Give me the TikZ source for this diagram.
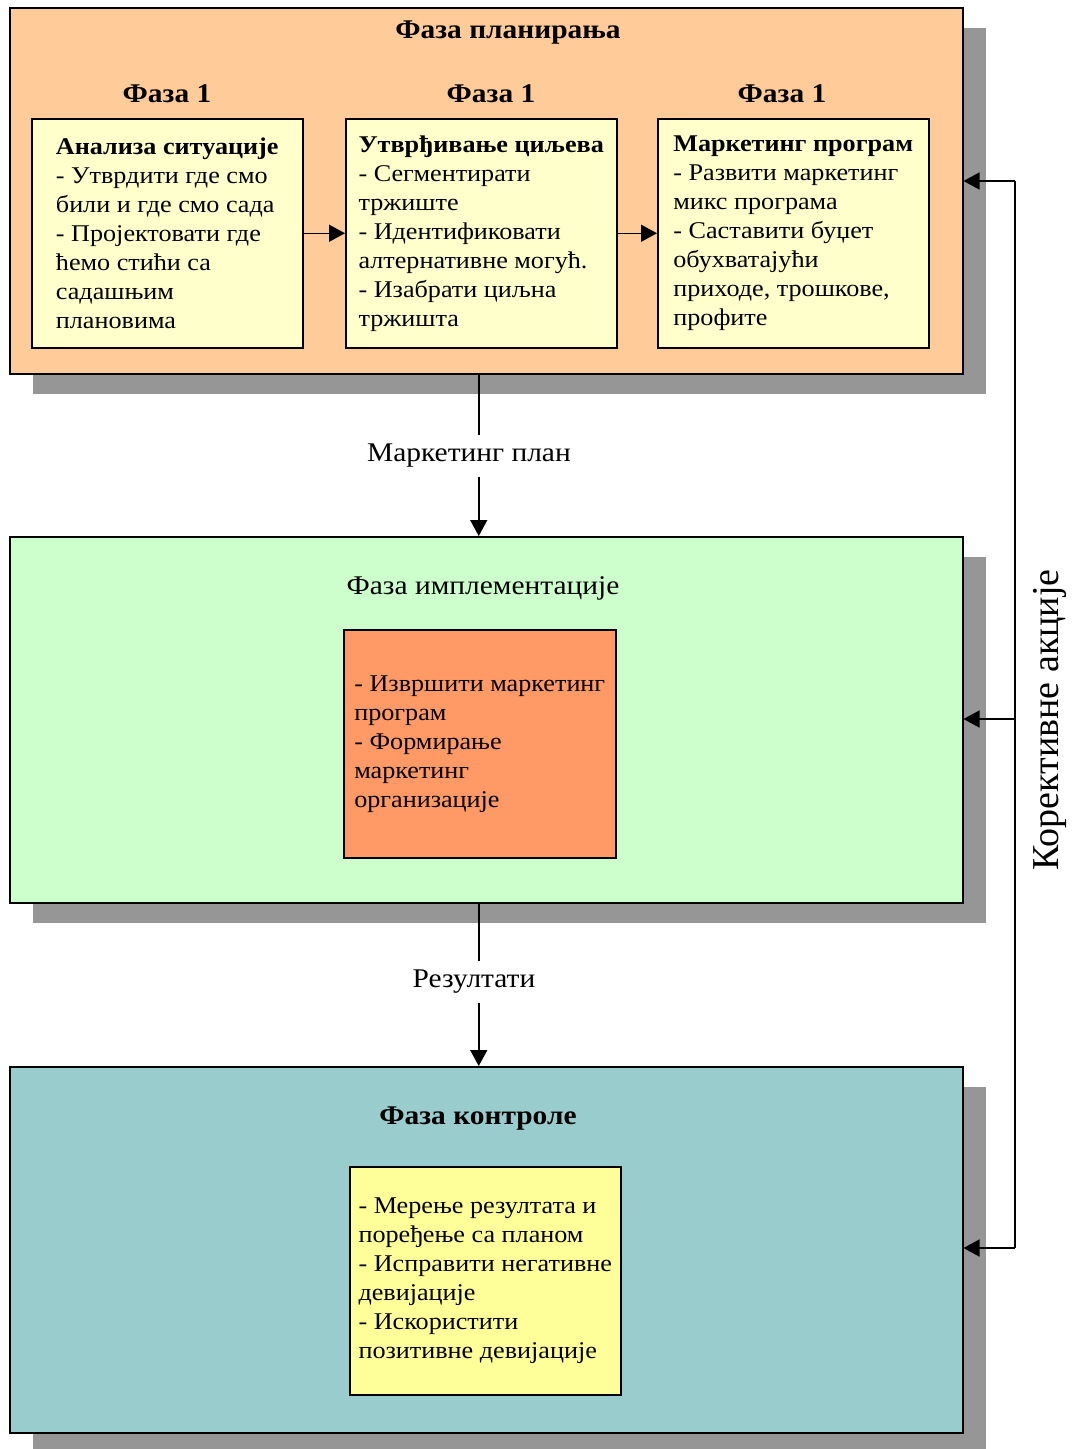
\documentclass[tikz,border=0pt]{standalone}
\usepackage{fontspec}
\setmainfont{Liberation Serif}[FakeStretch=1.09]
\newfontfamily\sidefont{Liberation Serif}
\usepackage{xcolor}
\usetikzlibrary{arrows.meta,positioning,shadows,calc}

\definecolor{planfill}{HTML}{FFCC99}
\definecolor{planbox}{HTML}{FFFFCC}
\definecolor{implfill}{HTML}{CCFFCC}
\definecolor{implbox}{HTML}{FF9966}
\definecolor{ctrlfill}{HTML}{99CCCC}
\definecolor{ctrlbox}{HTML}{FFFF99}
\definecolor{shadowgray}{HTML}{969696}

\begin{document}
\begin{tikzpicture}[
  x=1pt, y=-1pt,
  phase/.style={rectangle, draw, line width=1.5pt, minimum width=953pt, minimum height=366pt, anchor=north west,
    drop shadow={shadow xshift=23pt, shadow yshift=-20pt, fill=shadowgray, opacity=1}},
  box/.style={rectangle, draw, line width=1.5pt, minimum width=271pt, minimum height=229pt, anchor=north west,
    align=left, inner sep=2pt, font=\fontsize{24}{29}\selectfont},
  head/.style={font=\bfseries\fontsize{27}{30}\selectfont},
  label/.style={fill=white, inner sep=0pt, minimum height=41pt, font=\fontsize{27}{30}\selectfont},
  arrow/.style={-{Triangle[length=16pt,width=17pt]}, line width=1.5pt},
  conn/.style={line width=1.5pt}
]
\useasboundingbox (0,0) rectangle (1076,1449);

% Planning
\node[phase, fill=planfill] (plan) at (9,7) {};
\node[head] (plantitle) at (508,33) {Фаза планирања};
\node[head] (ph1) at (167,94) {Фаза 1};
\node[head] (ph2) at (491,94) {Фаза 1};
\node[head] (ph3) at (782,94) {Фаза 1};
\node[box, fill=planbox] (situation) at (31,118) {\textbf{Анализа ситуације}\\- Утврдити где смо\\били и где смо сада\\- Пројектовати где\\ћемо стићи са\\садашњим\\плановима};
\node[box, fill=planbox] (goals) at (345,118) {\textbf{Утврђивање циљева}\\- Сегментирати\\тржиште\\- Идентификовати\\алтернативне могућ.\\- Изабрати циљна\\тржишта};
\node[box, fill=planbox] (program) at (657,118) {\textbf{Маркетинг програм}\\- Развити маркетинг\\микс програма\\- Саставити буџет\\обухватајући\\приходе, трошкове,\\профите};

% Implementation
\node[phase, fill=implfill] (impl) at (9,536) {};
\node[font=\fontsize{27}{30}\selectfont] (impltitle) at (483,588) {Фаза имплементације};
\node[box, fill=implbox, minimum width=272pt, minimum height=228pt] (execute) at (343,629) {- Извршити маркетинг\\програм\\- Формирање\\маркетинг\\организације};

% Control
\node[phase, fill=ctrlfill] (ctrl) at (9,1066) {};
\node[head] (ctrltitle) at (478,1119) {Фаза контроле};
\node[box, fill=ctrlbox, minimum height=228pt] (measure) at (349,1166) {- Мерење резултата и\\поређење са планом\\- Исправити негативне\\девијације\\- Искористити\\позитивне девијације};

% Labels
\node[label] (mplan) at (469,456) {Маркетинг план};
\node[label] (results) at (474,982) {Резултати};
\node[rotate=90, font=\sidefont\fontsize{38}{40}\selectfont] (corrective) at (1050,720) {Корективне акције};

% Arrows
\draw[arrow] (situation) -- (goals);
\draw[arrow] (goals) -- (program);
\draw[conn] ([xshift=-7.5pt]plan.south) -- ([xshift=-7.5pt]plan.south |- mplan.north);
\draw[arrow] ([xshift=-7.5pt]plan.south |- mplan.south) -- ([xshift=-7.5pt]impl.north);
\draw[conn] ([xshift=-7.5pt]impl.south) -- ([xshift=-7.5pt]impl.south |- results.north);
\draw[arrow] ([xshift=-7.5pt]impl.south |- results.south) -- ([xshift=-7.5pt]ctrl.north);

% Feedback
\coordinate (fbtop) at (1015,181);
\coordinate (fbmid) at (1015,719);
\coordinate (fbbot) at (1015,1248);
\draw[conn] (fbbot) -- (fbtop);
\draw[arrow] (fbtop) -- (fbtop -| plan.east);
\draw[arrow] (fbmid) -- (fbmid -| impl.east);
\draw[arrow] (fbbot) -- (fbbot -| ctrl.east);

\end{tikzpicture}
\end{document}
